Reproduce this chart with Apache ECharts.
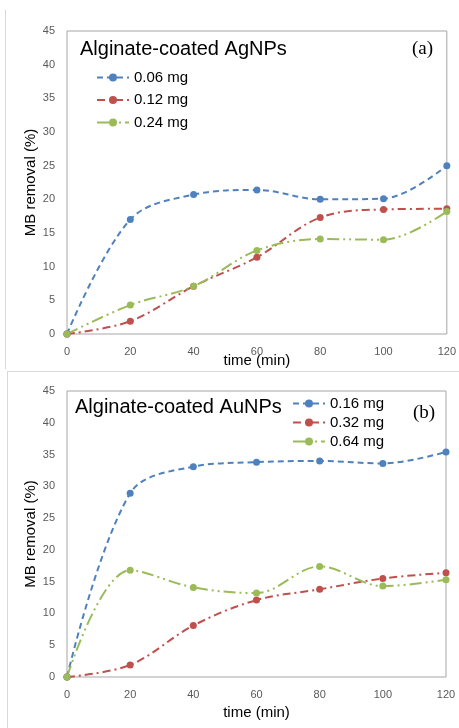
<!DOCTYPE html>
<html>
<head>
<meta charset="utf-8">
<script src="https://cdn.jsdelivr.net/npm/echarts@6/dist/echarts.min.js"></script>
<style>
html,body{margin:0;padding:0;background:#fff;}
#chart{width:459px;height:728px;}
</style>
</head>
<body>
<div id="chart"></div>
<script>
const times = [0, 20, 40, 60, 80, 100, 120];
const xTicks = [0, 20, 40, 60, 80, 100, 120];
const yTicks = [0, 5, 10, 15, 20, 25, 30, 35, 40, 45];

const agNames = ['0.06 mg', '0.12 mg', '0.24 mg'];
const ag006 = [0, 17.0, 20.7, 21.4, 20.0, 20.1, 25.0];
const ag012 = [0, 1.9, 7.1, 11.4, 17.3, 18.5, 18.6];
const ag024 = [0, 4.3, 7.1, 12.4, 14.1, 14.0, 18.2];

const auNames = ['0.16 mg', '0.32 mg', '0.64 mg'];
const au016 = [0, 28.9, 33.1, 33.8, 34.0, 33.6, 35.4];
const au032 = [0, 1.9, 8.1, 12.1, 13.8, 15.5, 16.4];
const au064 = [0, 16.8, 14.1, 13.2, 17.4, 14.3, 15.3];

const titles = ['Alginate-coated AgNPs', 'Alginate-coated AuNPs'];
const panelTags = ['(a)', '(b)'];
const xName = 'time (min)';
const yName = 'MB removal (%)';

const colors = ['#4f81bd', '#c0504d', '#9bbb59'];
const dashes = [[6, 4], [8, 4, 2, 4], [12, 4, 2, 4, 2, 4]];

function pairs(vals) { return times.map((t, i) => [t, vals[i]]); }

function mkSeries(name, vals, k, idx) {
  return {
    name: name, type: 'line', xAxisIndex: idx, yAxisIndex: idx,
    data: pairs(vals), smooth: 0.35,
    symbol: 'circle', symbolSize: 7,
    lineStyle: { color: colors[k], width: 2, type: dashes[k] },
    itemStyle: { color: colors[k] },
    z: 3
  };
}

const font = 'Liberation Sans, Arial, sans-serif';

function mkX(idx, gap) {
  return {
    type: 'value', gridIndex: idx, min: xTicks[0], max: xTicks[xTicks.length - 1], interval: 20,
    axisLine: { show: false }, axisTick: { show: false }, splitLine: { show: false },
    axisLabel: { color: '#595959', fontSize: 11, fontFamily: font, margin: 12 },
    name: xName, nameLocation: 'middle', nameGap: gap, nameMoveOverlap: false,
    nameTextStyle: { color: '#000', fontSize: 15, fontFamily: font }
  };
}
function mkY(idx) {
  return {
    type: 'value', gridIndex: idx, min: yTicks[0], max: yTicks[yTicks.length - 1], interval: 5,
    axisLine: { show: false }, axisTick: { show: false }, splitLine: { show: false },
    axisLabel: { color: '#595959', fontSize: 11, fontFamily: font, margin: 12 },
    name: yName, nameLocation: 'middle', nameGap: 29, nameRotate: 90, nameMoveOverlap: false,
    nameTextStyle: { color: '#000', fontSize: 15, fontFamily: font }
  };
}

const chart = echarts.init(document.getElementById('chart'), null, { renderer: 'canvas' });
chart.setOption({
  backgroundColor: '#fff',
  animation: false,
  title: [
    { text: titles[0], left: 80, top: 39, padding: 0, textStyle: { fontSize: 20, fontWeight: 'normal', color: '#000', fontFamily: font } },
    { text: titles[1], left: 75, top: 397, padding: 0, textStyle: { fontSize: 20, fontWeight: 'normal', color: '#000', fontFamily: font } },
    { text: panelTags[0], left: 412, top: 40, padding: 0, textStyle: { fontSize: 19, fontWeight: 'normal', color: '#000', fontFamily: 'Liberation Serif, Times New Roman, serif' } },
    { text: panelTags[1], left: 413, top: 404, padding: 0, textStyle: { fontSize: 19, fontWeight: 'normal', color: '#000', fontFamily: 'Liberation Serif, Times New Roman, serif' } }
  ],
  legend: [
    { data: agNames, orient: 'vertical', left: 96, top: 70, padding: 0, itemWidth: 32, itemHeight: 10, itemGap: 7.5,
      textStyle: { fontSize: 15, color: '#000', fontFamily: font } },
    { data: auNames, orient: 'vertical', left: 292, top: 396, padding: 0, itemWidth: 32, itemHeight: 10, itemGap: 4,
      textStyle: { fontSize: 15, color: '#000', fontFamily: font } }
  ],
  grid: [
    { left: 67, top: 31, width: 381, height: 303, show: true, borderColor: '#a6a6a6', borderWidth: 1 },
    { left: 67, top: 391, width: 379, height: 286, show: true, borderColor: '#a6a6a6', borderWidth: 1 }
  ],
  xAxis: [mkX(0, 19), mkX(1, 28)],
  yAxis: [mkY(0), mkY(1)],
  series: [
    mkSeries(agNames[0], ag006, 0, 0),
    mkSeries(agNames[1], ag012, 1, 0),
    mkSeries(agNames[2], ag024, 2, 0),
    mkSeries(auNames[0], au016, 0, 1),
    mkSeries(auNames[1], au032, 1, 1),
    mkSeries(auNames[2], au064, 2, 1)
  ],
  graphic: [
    { type: 'line', shape: { x1: 5.5, y1: 10, x2: 5.5, y2: 369 }, style: { stroke: '#d9d9d9', lineWidth: 1 } },
    { type: 'line', shape: { x1: 7, y1: 371.5, x2: 459, y2: 371.5 }, style: { stroke: '#d9d9d9', lineWidth: 1 } },
    { type: 'line', shape: { x1: 7.5, y1: 372, x2: 7.5, y2: 728 }, style: { stroke: '#d9d9d9', lineWidth: 1 } }
  ]
});
</script>
</body>
</html>
